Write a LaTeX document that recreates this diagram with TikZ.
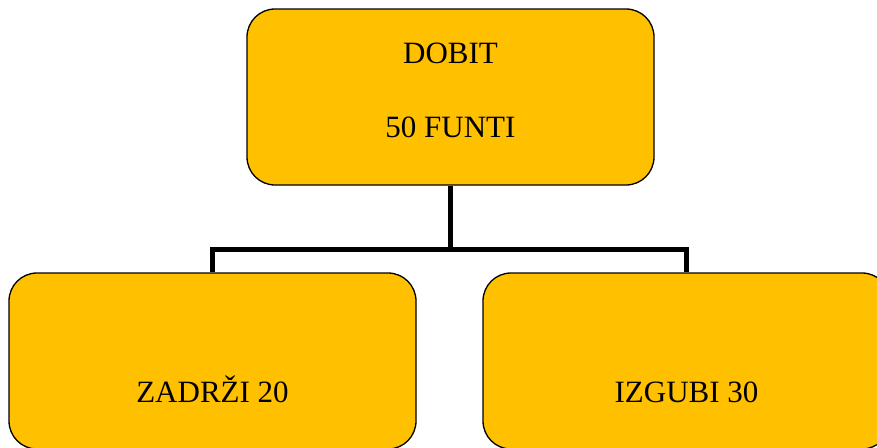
\documentclass[tikz,border=0pt]{standalone}
\usepackage{fontspec}
\setmainfont{Liberation Serif}
\definecolor{gold}{HTML}{FFC000}

\begin{document}
\begin{tikzpicture}[x=1pt, y=-1pt,
    box/.style={draw, fill=gold, line width=1.3pt, rounded corners=28pt, minimum width=407pt, minimum height=176pt, inner sep=0pt},
    lbl/.style={anchor=base, inner sep=0pt, font=\fontsize{31}{37}\selectfont},
    conn/.style={line width=5pt}]
    \useasboundingbox (0, 0) rectangle (877, 447);
    \clip (0, 0) rectangle (877, 447);

    \node [box] (dobit) at (450.5, 97) {};
    \node [box] (zadrzi) at (212.5, 361) {};
    \node [box] (izgubi) at (686.5, 361) {};

    \node [lbl] (dobit1) at (450.5, 63) {DOBIT};
    \node [lbl] (dobit2) at (450.5, 137) {50 FUNTI};
    \node [lbl] (zadrzi1) at (212.5, 402) {ZADRŽI 20};
    \node [lbl] (izgubi1) at (686.5, 402) {IZGUBI 30};

    \coordinate (split) at (450.5, 249);
    \draw [conn] (dobit.south) -- (split);
    \draw [conn] (zadrzi.north) |- (split) -| (izgubi.north);
\end{tikzpicture}
\end{document}
